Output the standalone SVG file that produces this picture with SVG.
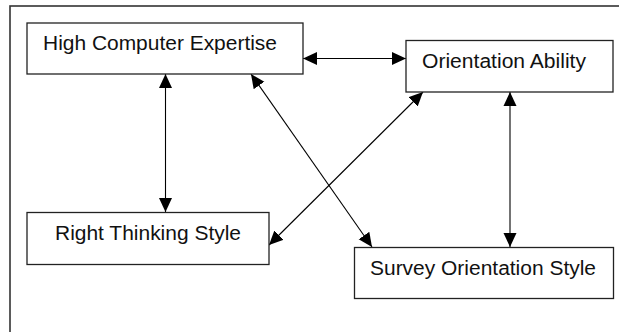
<svg xmlns="http://www.w3.org/2000/svg" width="619" height="332" viewBox="0 0 619 332">
<style>
.box{fill:#fff;stroke:#222;stroke-width:1.3}
.lbl{font-family:"Liberation Sans",Arial,sans-serif;font-size:20px;fill:#111}
.edge{stroke:#000;stroke-width:1.1;fill:none;marker-start:url(#ah);marker-end:url(#ah)}
</style>
<defs>
<marker id="ah" markerUnits="userSpaceOnUse" markerWidth="15" markerHeight="14" refX="14" refY="6.5" orient="auto-start-reverse" viewBox="0 0 15 13">
<path d="M0,0 L14,6.5 L0,13 z" fill="#000"/>
</marker>
</defs>
<rect x="10" y="6" width="620" height="340" fill="#fff" stroke="#333" stroke-width="1.6"/>
<g id="connectors">
<line class="edge" x1="303" y1="58.5" x2="406" y2="58.5"/>
<line class="edge" x1="165.5" y1="74" x2="165.5" y2="212"/>
<line class="edge" x1="251" y1="74" x2="372" y2="247"/>
<line class="edge" x1="423" y1="92" x2="269" y2="245"/>
<line class="edge" x1="510" y1="92" x2="510" y2="247"/>
</g>
<g id="hce">
<rect class="box" x="27" y="23" width="276" height="51"/>
<text class="lbl" x="43" y="50" textLength="234" lengthAdjust="spacingAndGlyphs">High Computer Expertise</text>
</g>
<g id="oa">
<rect class="box" x="406" y="40.5" width="207" height="51.5"/>
<text class="lbl" x="422" y="68" textLength="164" lengthAdjust="spacingAndGlyphs">Orientation Ability</text>
</g>
<g id="rts">
<rect class="box" x="27" y="212.5" width="242" height="52"/>
<text class="lbl" x="55" y="240" textLength="186" lengthAdjust="spacingAndGlyphs">Right Thinking Style</text>
</g>
<g id="sos">
<rect class="box" x="354.5" y="247.5" width="259" height="51"/>
<text class="lbl" x="370" y="274.5" textLength="226" lengthAdjust="spacingAndGlyphs">Survey Orientation Style</text>
</g>
</svg>
